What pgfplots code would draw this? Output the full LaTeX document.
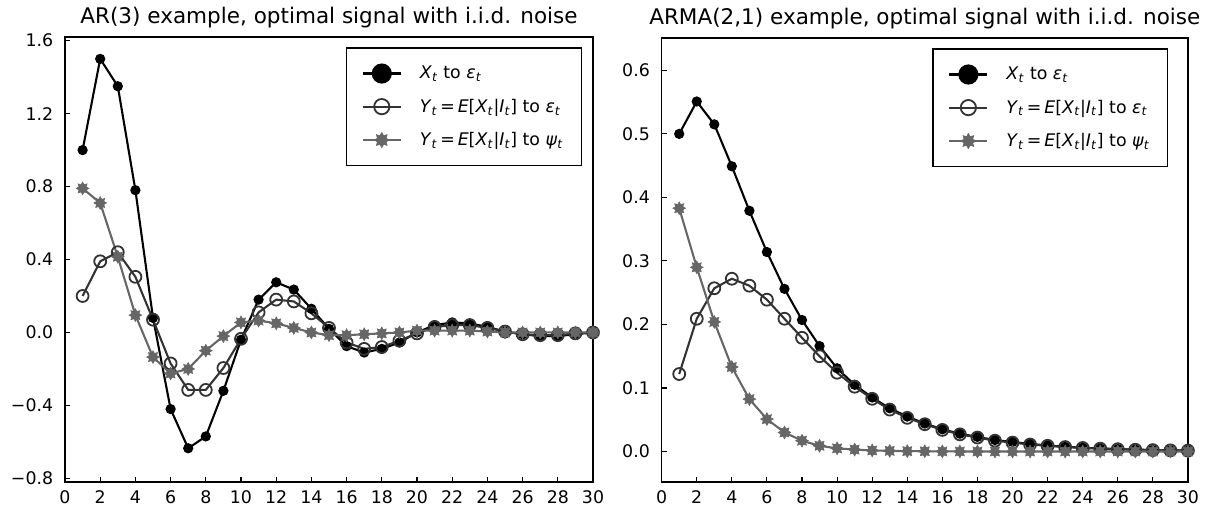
\documentclass[border=0pt]{standalone}
\usepackage{fontspec}
\setmainfont{DejaVu Sans}
\usepackage{pgfplots}
\pgfplotsset{compat=1.18}
\usetikzlibrary{plotmarks}
\definecolor{circc}{gray}{0.2}
\definecolor{starc}{gray}{0.4}

\pgfdeclareplotmark{star8}{%
  \pgfpathmoveto{\pgfpointpolar{90}{\pgfplotmarksize}}%
  \pgfpathlineto{\pgfpointpolar{112.5}{0.62\pgfplotmarksize}}%
  \pgfpathlineto{\pgfpointpolar{135}{\pgfplotmarksize}}%
  \pgfpathlineto{\pgfpointpolar{157.5}{0.62\pgfplotmarksize}}%
  \pgfpathlineto{\pgfpointpolar{180}{\pgfplotmarksize}}%
  \pgfpathlineto{\pgfpointpolar{202.5}{0.62\pgfplotmarksize}}%
  \pgfpathlineto{\pgfpointpolar{225}{\pgfplotmarksize}}%
  \pgfpathlineto{\pgfpointpolar{247.5}{0.62\pgfplotmarksize}}%
  \pgfpathlineto{\pgfpointpolar{270}{\pgfplotmarksize}}%
  \pgfpathlineto{\pgfpointpolar{292.5}{0.62\pgfplotmarksize}}%
  \pgfpathlineto{\pgfpointpolar{315}{\pgfplotmarksize}}%
  \pgfpathlineto{\pgfpointpolar{337.5}{0.62\pgfplotmarksize}}%
  \pgfpathlineto{\pgfpointpolar{0}{\pgfplotmarksize}}%
  \pgfpathlineto{\pgfpointpolar{22.5}{0.62\pgfplotmarksize}}%
  \pgfpathlineto{\pgfpointpolar{45}{\pgfplotmarksize}}%
  \pgfpathlineto{\pgfpointpolar{67.5}{0.62\pgfplotmarksize}}%
  \pgfpathclose\pgfusepathqfillstroke}

\newcommand\sub[1]{\textsubscript{\textit{#1}}}
\newcommand\Xeps{\textit{X}\sub{t} to \textit{ε}\sub{t}}
\newcommand\Yeps{\textit{Y}\sub{t}\,=\,\textit{E}[\textit{X}\sub{t}|\textit{I}\sub{t}] to \textit{ε}\sub{t}}
\newcommand\Ypsi{\textit{Y}\sub{t}\,=\,\textit{E}[\textit{X}\sub{t}|\textit{I}\sub{t}] to \textit{ψ}\sub{t}}

\pgfplotstableread{
t x y z
1 1.00 0.20 0.79
2 1.50 0.39 0.71
3 1.35 0.44 0.415
4 0.78 0.305 0.095
5 0.08 0.07 -0.135
6 -0.42 -0.17 -0.225
7 -0.635 -0.315 -0.20
8 -0.57 -0.315 -0.10
9 -0.32 -0.195 -0.02
10 -0.04 -0.035 0.055
11 0.18 0.11 0.065
12 0.275 0.18 0.05
13 0.235 0.17 0.025
14 0.13 0.105 0.00
15 0.02 0.025 -0.015
16 -0.075 -0.055 -0.015
17 -0.11 -0.09 -0.01
18 -0.09 -0.08 -0.005
19 -0.055 -0.045 0.00
20 0.00 -0.005 0.01
21 0.04 0.03 0.01
22 0.055 0.04 0.01
23 0.05 0.04 0.01
24 0.03 0.025 0.005
25 0.005 0.005 0.00
26 -0.01 -0.01 0.00
27 -0.02 -0.015 0.00
28 -0.02 -0.015 0.00
29 -0.01 -0.005 0.00
30 0.00 0.00 0.00
}\ardata

\pgfplotstableread{
t x y z
1 0.500 0.122 0.383
2 0.551 0.209 0.290
3 0.515 0.257 0.204
4 0.449 0.272 0.133
5 0.379 0.261 0.0825
6 0.314 0.239 0.051
7 0.256 0.209 0.030
8 0.207 0.179 0.017
9 0.166 0.150 0.009
10 0.131 0.124 0.005
11 0.105 0.102 0.003
12 0.085 0.083 0.0017
13 0.068 0.066 0.001
14 0.055 0.053 0.0006
15 0.044 0.043 0.0004
16 0.035 0.034 0.0002
17 0.028 0.027 0.0001
18 0.023 0.022 0.0
19 0.018 0.017 0.0
20 0.015 0.014 0.0
21 0.012 0.011 0.0
22 0.0095 0.009 0.0
23 0.0075 0.007 0.0
24 0.006 0.0056 0.0
25 0.0048 0.0045 0.0
26 0.0038 0.0036 0.0
27 0.003 0.0028 0.0
28 0.0024 0.0022 0.0
29 0.0019 0.0018 0.0
30 0.0015 0.0014 0.0
}\armadata

\pgfplotsset{
  myaxis/.style={
    scale only axis,
    /pgf/number format/assume math mode=true,
    axis line style={line width=1pt},
    tick align=inside,
    xtick pos=bottom, ytick pos=left,
    major tick length=3.5pt,
    tick style={line width=0.8pt, black},
    xmin=0, xmax=30,
    xtick={0,2,...,30},
    tick label style={font=\fontsize{12.5}{15}\selectfont},
    yticklabel style={xshift=-5pt},
    xticklabel style={yshift=-2.5pt},
    title style={anchor=south, inner sep=0pt, yshift=0pt, font=\fontsize{15.5}{18}\selectfont},
    clip=false,
    legend cell align=left,
    legend style={at={(1,1)}, anchor=north east, xshift=-8pt, yshift=-7.5pt,
      draw=black, line width=1pt, inner xsep=11pt, inner ysep=11pt,
      row sep=9pt, font=\fontsize{12.5}{15}\selectfont,
      /tikz/every odd column/.append style={column sep=11pt}},
    legend image code/.code={
      \draw[mark repeat=2,mark phase=2] plot coordinates {(0cm,0cm) (0.48cm,0cm) (0.96cm,0cm)};},
  },
  sx/.style={black, line width=1.5pt, mark=*, mark size=2.9pt, legend image post style={mark size=6.5pt}},
  sy/.style={circc, line width=1.5pt, mark=o, mark size=4.3pt, mark options={line width=1.3pt}, legend image post style={mark size=5.5pt}},
  sz/.style={starc, line width=1.5pt, mark=star8, mark size=4.6pt, mark options={fill=starc, line width=0.4pt}, legend image post style={mark size=5.5pt}},
}

\begin{document}
\begin{tikzpicture}
\path[use as bounding box] (-46.8pt,-23.04pt) rectangle (822.24pt,347.04pt);
\begin{axis}[myaxis,
  at={(0pt,0pt)}, anchor=south west,
  width=380.16pt, height=320.4pt,
  ymin=-0.82, ymax=1.62,
  ytick={-0.8,-0.4,0,0.4,0.8,1.2,1.6},
  yticklabels={−0.8,−0.4,0.0,0.4,0.8,1.2,1.6},
  title={AR(3) example, optimal signal with i.i.d. noise},
]
\addplot[sx] table[x=t,y=x] {\ardata};
\addlegendentry{\Xeps}
\addplot[sy] table[x=t,y=y] {\ardata};
\addlegendentry{\Yeps}
\addplot[sz] table[x=t,y=z] {\ardata};
\addlegendentry{\Ypsi}
\end{axis}
\begin{axis}[myaxis,
  at={(429.6pt,0pt)}, anchor=south west,
  width=378.9pt, height=319.7pt,
  ymin=-0.048, ymax=0.651,
  ytick={0,0.1,0.2,0.3,0.4,0.5,0.6},
  yticklabels={0.0,0.1,0.2,0.3,0.4,0.5,0.6},
  title={ARMA(2,1) example, optimal signal with i.i.d. noise},
  legend style={xshift=-6pt},
]
\addplot[sx] table[x=t,y=x] {\armadata};
\addlegendentry{\Xeps}
\addplot[sy] table[x=t,y=y] {\armadata};
\addlegendentry{\Yeps}
\addplot[sz] table[x=t,y=z] {\armadata};
\addlegendentry{\Ypsi}
\end{axis}
\end{tikzpicture}
\end{document}
